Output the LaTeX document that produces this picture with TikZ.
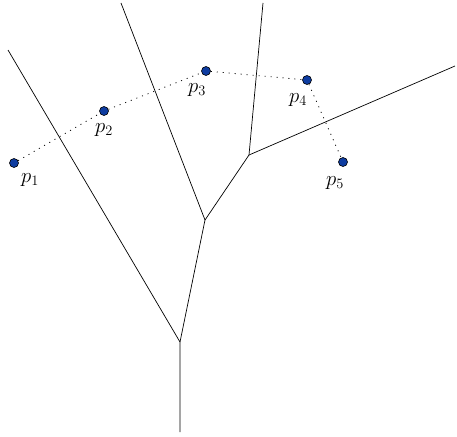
\documentclass[tikz,border=0pt]{standalone}
\begin{document}
\begin{tikzpicture}[x=1pt,y=-1pt,
  site/.style={circle,draw=black,fill={rgb,255:red,14;green,60;blue,160},inner sep=0pt,minimum size=9pt,line width=0.6pt},
  lbl/.style={font=\fontsize{21}{25}\selectfont,inner sep=0pt},
  edge/.style={line width=0.7pt},
  conn/.style={dash pattern=on 1pt off 5pt,line width=0.8pt}]
\useasboundingbox (0,0) rectangle (457,436);
\node[site] (p1) at (14,163) {};
\node[site] (p2) at (104,111) {};
\node[site] (p3) at (206,71) {};
\node[site] (p4) at (307,80) {};
\node[site] (p5) at (343,162) {};
\node[lbl] (l1) at (30,180) {$p_1$};
\node[lbl] (l2) at (104,130) {$p_2$};
\node[lbl] (l3) at (197,90) {$p_3$};
\node[lbl] (l4) at (298,100) {$p_4$};
\node[lbl] (l5) at (335,183) {$p_5$};
\draw[conn] (p1) -- (p2) -- (p3) -- (p4) -- (p5);
\coordinate (a) at (180,342);
\coordinate (b) at (205,220);
\coordinate (c) at (249,155);
\coordinate (e1) at (8,50);
\coordinate (e2) at (180,432);
\coordinate (e3) at (121,3);
\coordinate (e4) at (263,3);
\coordinate (e5) at (455,66);
\draw[edge] (e1) -- (a) -- (e2);
\draw[edge] (a) -- (b) -- (e3);
\draw[edge] (b) -- (c) -- (e4);
\draw[edge] (c) -- (e5);
\end{tikzpicture}
\end{document}
